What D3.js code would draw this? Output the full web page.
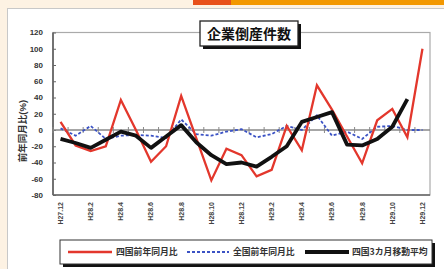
<!DOCTYPE html>
<html><head><meta charset="utf-8">
<script src="https://cdn.jsdelivr.net/npm/d3@7"></script>
<style>
html,body{margin:0;padding:0;background:#fdf2e3;overflow:hidden}
svg{display:block}
</style></head>
<body>
<script>
const months = ["H27.12","H28.1","H28.2","H28.3","H28.4","H28.5","H28.6","H28.7","H28.8","H28.9","H28.10","H28.11","H28.12",
  "H29.1","H29.2","H29.3","H29.4","H29.5","H29.6","H29.7","H29.8","H29.9","H29.10","H29.11","H29.12"];
const shikoku = [10,-19,-26,-20,37,0,-39,-20,42,-10,-62,-23,-31,-57,-49,5,-25,55,25,-8,-41,12,26,-9,100];
const zenkoku = [2,-7,5,-11,-7,-6,-7,-10,13,-5,-7,-2,1,-9,-5,5,0,18,-7,-2,-11,4,5,0,0];
const movingAvg = [-11,-16,-22,-12,-2,-7,-22,-8,6,-15,-31,-42,-40,-45,-33,-20,10,16,22,-18,-19,-11,4,38,null];
const yTicks = [120,100,80,60,40,20,0,-20,-40,-60,-80];
const tickLabels = months.filter((d,i)=>i%2===0);
const seriesNames = ["四国前年同月比","全国前年同月比","四国3カ月移動平均"];
const titleText = "企業倒産件数";
const yTitle = "前年同月比(%)";

const W=444,H=269;
const svg=d3.select("body").append("svg").attr("width",W).attr("height",H);
const font="'Liberation Sans','Noto Sans CJK JP',sans-serif";

// background decorations
svg.append("rect").attr("x",193).attr("y",0).attr("width",251).attr("height",5).attr("fill","#f39800");
svg.append("rect").attr("x",193).attr("y",0).attr("width",38).attr("height",5).attr("fill","#e8501a");
svg.append("rect").attr("x",7.5).attr("y",8.5).attr("width",450).attr("height",280).attr("fill","#fff").attr("stroke","#c8c8c8");

const L=53,R=430,T=32.5,B=195;
const x=d3.scaleBand().domain(months).range([L,R]);
const cx=d=>x(d)+x.bandwidth()/2;
const y=d3.scaleLinear().domain([-80,120]).range([B,T]);

// plot frame
svg.append("rect").attr("x",L).attr("y",T).attr("width",R-L).attr("height",B-T).attr("fill","none").attr("stroke","#aaa").attr("stroke-width",1.2);
svg.append("line").attr("x1",L).attr("x2",L).attr("y1",T).attr("y2",B).attr("stroke","#555").attr("stroke-width",1.5);
svg.append("line").attr("x1",L).attr("x2",R).attr("y1",B).attr("y2",B).attr("stroke","#666").attr("stroke-width",1.5);

// y axis
const yAxis=svg.append("g").attr("transform",`translate(${L},0)`)
  .call(d3.axisRight(y).tickValues(yTicks).tickSize(3).tickFormat(""));
yAxis.select(".domain").remove();
yAxis.selectAll("line").attr("stroke","#666");
svg.append("g").selectAll("text").data(yTicks).join("text")
  .attr("x",43).attr("y",d=>y(d)).attr("dy","0.35em").attr("text-anchor","end")
  .attr("font-family",font).attr("font-size",8).attr("font-weight","bold").attr("fill","#333").text(d=>d);
svg.append("text").attr("transform",`translate(26,131) rotate(-90)`).attr("text-anchor","middle")
  .attr("font-family",font).attr("font-size",9.5).attr("font-weight","bold").attr("fill","#333").text(yTitle);

// zero line with category ticks
svg.append("line").attr("x1",L).attr("x2",R).attr("y1",y(0)).attr("y2",y(0)).attr("stroke","#888").attr("stroke-width",1.5);
const xAxis=svg.append("g").attr("transform",`translate(0,${y(0)})`)
  .call(d3.axisBottom(x).tickSize(3).tickFormat(""));
xAxis.select(".domain").remove();
xAxis.selectAll(".tick line").attr("stroke","#888").attr("y1",-3).attr("transform",`translate(${-x.bandwidth()/2},0)`);

// x tick labels
svg.append("g").selectAll("text").data(tickLabels).join("text")
  .attr("transform",d=>`translate(${cx(d)},202) rotate(-90)`).attr("dy","0.35em").attr("text-anchor","end")
  .attr("font-family",font).attr("font-size",7).attr("font-weight","bold").attr("fill","#444").text(d=>d);

// series
const line=d3.line().defined(d=>d[1]!=null).x(d=>cx(d[0])).y(d=>y(d[1]));
svg.append("path").datum(months.map((m,i)=>[m,zenkoku[i]])).attr("d",line).attr("fill","none")
  .attr("stroke","#3b52c4").attr("stroke-width",1.8).attr("stroke-dasharray","3,2");
svg.append("path").datum(months.map((m,i)=>[m,shikoku[i]])).attr("d",line).attr("fill","none")
  .attr("stroke","#e3372c").attr("stroke-width",2.3).attr("stroke-linejoin","miter");
svg.append("path").datum(months.map((m,i)=>[m,movingAvg[i]])).attr("d",line).attr("fill","none")
  .attr("stroke","#111").attr("stroke-width",3.8).attr("stroke-linejoin","round");

// title box
svg.append("rect").attr("x",203).attr("y",24).attr("width",98).attr("height",25).attr("fill","#111");
svg.append("rect").attr("x",200).attr("y",21).attr("width",98).attr("height",25).attr("fill","#fff").attr("stroke","#222").attr("stroke-width",1.3);
svg.append("text").attr("x",249).attr("y",34).attr("dy","0.36em").attr("text-anchor","middle")
  .attr("font-family","'Noto Sans CJK JP',sans-serif").attr("font-size",14).attr("font-weight","bold").attr("fill","#111").text(titleText);

// legend
svg.append("rect").attr("x",63).attr("y",243).attr("width",372).attr("height",24).attr("fill","#111");
svg.append("rect").attr("x",60).attr("y",240).attr("width",372).attr("height",24).attr("fill","#fff").attr("stroke","#333").attr("stroke-width",1);
const leg=[
  {x1:68,x2:112,tx:116,color:"#e3372c",w:2.5,dash:null},
  {x1:187,x2:229,tx:233,color:"#3b52c4",w:1.8,dash:"3,2"},
  {x1:305,x2:349,tx:352,color:"#111",w:3.8,dash:null}];
leg.forEach((l,i)=>{
  svg.append("line").attr("x1",l.x1).attr("x2",l.x2).attr("y1",252).attr("y2",252)
    .attr("stroke",l.color).attr("stroke-width",l.w).attr("stroke-dasharray",l.dash);
  svg.append("text").attr("x",l.tx).attr("y",252).attr("dy","0.36em")
    .attr("font-family","'Noto Sans CJK JP',sans-serif").attr("font-size",8.8).attr("font-weight","bold").attr("fill","#333").text(seriesNames[i]);
});
</script>
</body></html>
